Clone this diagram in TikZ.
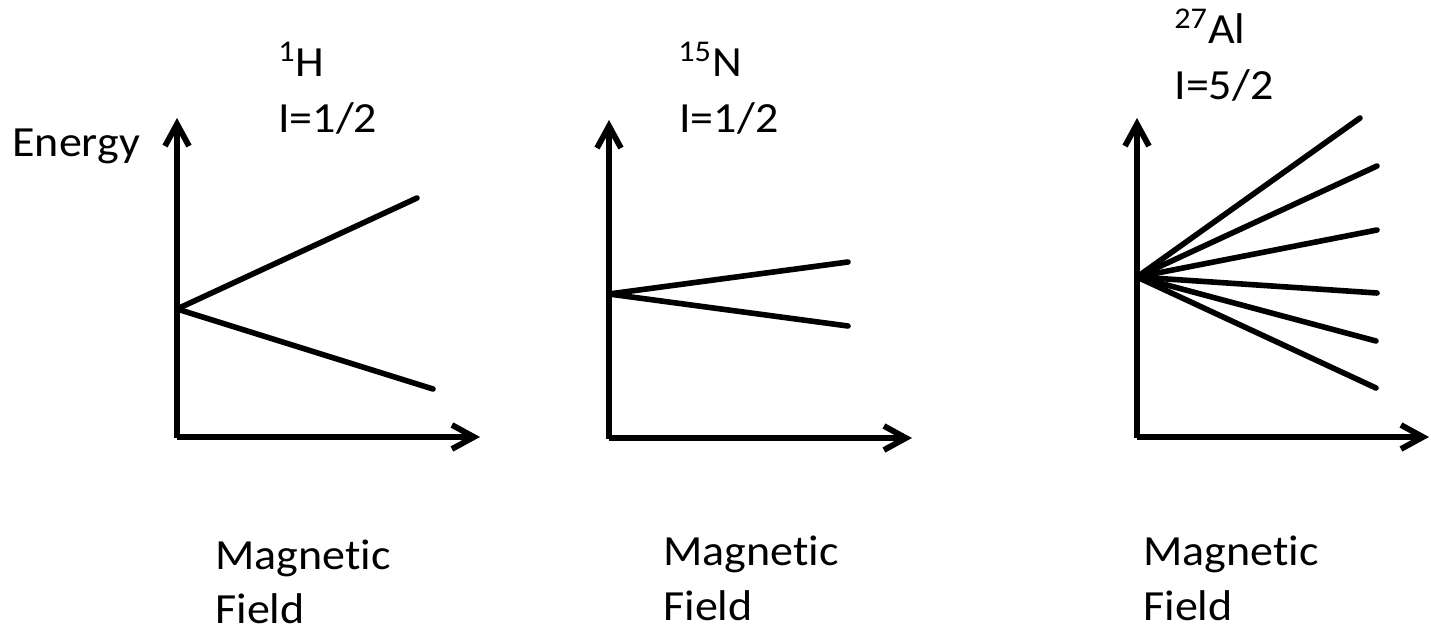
\documentclass[tikz,border=0pt]{standalone}
\usepackage{fontspec}
\setmainfont{Carlito}[FakeStretch=1.07,Ligatures=NoCommon]
\usetikzlibrary{arrows.meta,positioning,calc}
\tikzset{
  lbl/.style={anchor=base west,inner sep=0pt,font=\fontsize{21.5pt}{27.5pt}\selectfont},
  axis/.style={line width=2.9pt,-{Straight Barb[length=11pt,width=12pt]}},
  level/.style={line width=2.8pt,line cap=round}
}

\begin{document}
\begin{tikzpicture}[x=0.5pt,y=-0.5pt]
        \useasboundingbox (0,0) rectangle (1431,631);
        % 1H
        \coordinate (o1) at (177,437);
        \coordinate (s1) at (177,309);
        \coordinate (up1) at (417,198);
        \coordinate (dn1) at (433,389);
        \draw[axis] ($(o1)+(0,1)$) -- (177,118);
        \draw[axis] (o1) -- (480,437);
        \draw[level] (s1) -- (up1);
        \draw[level] (s1) -- (dn1);
        \node[lbl] (energy) at (12,157) {Energy};
        \node[lbl] (hname) at (278,77) {\textsuperscript{1}H};
        \node[lbl] (hspin) at (278,133) {I=1/2};
        \node[lbl] (mag1) at (215,569) {Magnetic};
        \node[lbl] (fld1) at (215,623) {Field};
        % 15N
        \coordinate (o2) at (609,438);
        \coordinate (s2) at (609,294);
        \coordinate (up2) at (848,262);
        \coordinate (dn2) at (848,326);
        \draw[axis] ($(o2)+(0,1)$) -- (609,120);
        \draw[axis] (o2) -- (912,438);
        \draw[level] (s2) -- (up2);
        \draw[level] (s2) -- (dn2);
        \node[lbl] (nname) at (678,77) {\textsuperscript{15}N};
        \node[lbl] (nspin) at (679,133) {I=1/2};
        \node[lbl] (mag2) at (663,565) {Magnetic};
        \node[lbl] (fld2) at (663,620) {Field};
        % 27Al
        \coordinate (o3) at (1137,437);
        \coordinate (s3) at (1137,277);
        \draw[axis] ($(o3)+(0,1)$) -- (1137,118);
        \draw[axis] (o3) -- (1429,437);
        \foreach \x/\y [count=\i] in {1360/118,1377/166,1377/230,1377/293,1376/341,1376/388}{
          \coordinate (e\i) at (\x,\y);
          \draw[level] (s3) -- (e\i);
        }
        \node[lbl] (alname) at (1174,44) {\textsuperscript{27}Al};
        \node[lbl] (alspin) at (1174,100) {I=5/2};
        \node[lbl] (mag3) at (1143,565) {Magnetic};
        \node[lbl] (fld3) at (1143,620) {Field};
      \end{tikzpicture}
\end{document}
